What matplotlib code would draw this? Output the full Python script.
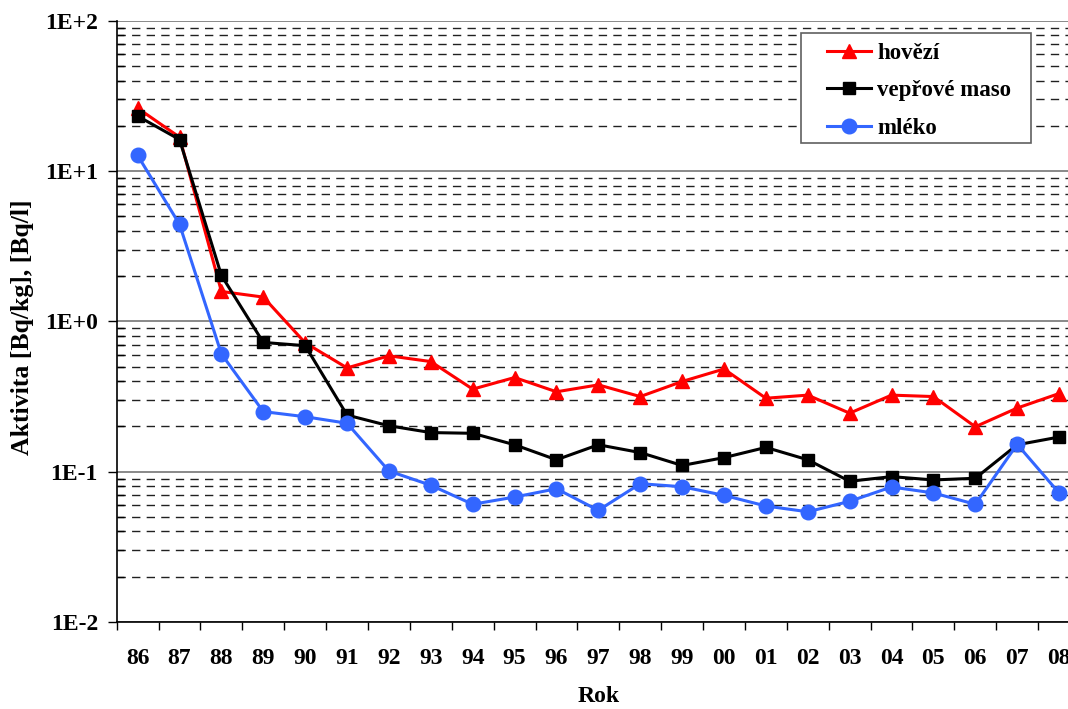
import matplotlib
matplotlib.use("Agg")
import matplotlib.pyplot as plt
from matplotlib.patches import Rectangle
from matplotlib.ticker import FixedLocator, LogLocator, NullFormatter
import numpy as np

years = ["86", "87", "88", "89", "90", "91", "92", "93", "94", "95", "96",
         "97", "98", "99", "00", "01", "02", "03", "04", "05", "06", "07", "08"]

hovezi = [26.2, 16.8, 1.58, 1.45, 0.72, 0.49, 0.59, 0.54, 0.354, 0.423, 0.340,
          0.378, 0.316, 0.398, 0.482, 0.308, 0.323, 0.245, 0.323, 0.316, 0.199,
          0.265, 0.331]
veprove = [23.2, 16.2, 2.02, 0.724, 0.689, 0.238, 0.202, 0.182, 0.180, 0.151,
           0.120, 0.151, 0.134, 0.110, 0.124, 0.145, 0.120, 0.0863, 0.0927,
           0.0881, 0.0904, 0.151, 0.170]
mleko = [12.7, 4.42, 0.607, 0.251, 0.232, 0.210, 0.101, 0.0812, 0.0607, 0.0678,
         0.0770, 0.0553, 0.0832, 0.0794, 0.0696, 0.0591, 0.0541, 0.0635, 0.0791,
         0.0722, 0.0607, 0.152, 0.0722]

series_labels = ["hovězí", "vepřové maso", "mléko"]
ytick_labels = ["1E-2", "1E-1", "1E+0", "1E+1", "1E+2"]

FONT = "Liberation Serif"
FS = 17

W, H = 1068, 709
fig = plt.figure(figsize=(W / 100, H / 100), dpi=100)
ax = fig.add_axes([116.7 / W, 1 - 622 / H, (1080 - 116.7) / W, (622 - 20.7) / H])

x = np.arange(len(years))
ax.plot(x, hovezi, color="#FF0000", lw=2.2, marker="^", ms=10,
        mfc="#FF0000", mec="#FF0000", label=series_labels[0], zorder=3)
ax.plot(x, veprove, color="#000000", lw=2.2, marker="s", ms=8.5,
        mfc="#000000", mec="#000000", label=series_labels[1], zorder=4)
ax.plot(x, mleko, color="#3366FF", lw=2.2, marker="o", ms=10.5,
        mfc="#3366FF", mec="#3366FF", label=series_labels[2], zorder=5)

ax.set_yscale("log")
ax.set_ylim(1e-2, 1e2)
ax.set_xlim(-0.5, len(years) - 0.5)

# y axis: decades labelled, minor ticks inside
ax.yaxis.set_major_locator(FixedLocator([1e-2, 1e-1, 1e0, 1e1, 1e2]))
ax.set_yticklabels(ytick_labels)
ax.yaxis.set_minor_locator(LogLocator(base=10, subs=np.arange(2, 10)))
ax.yaxis.set_minor_formatter(NullFormatter())
ax.tick_params(axis="y", which="major", direction="out", length=6.5, width=1,
               pad=7, labelsize=FS)
ax.tick_params(axis="y", which="minor", direction="in", length=5, width=1)

# x axis: ticks between categories, labels centred on categories
ax.xaxis.set_major_locator(FixedLocator(np.arange(-0.5, len(years), 1.0)))
ax.xaxis.set_minor_locator(FixedLocator(x))
ax.set_xticklabels([], minor=False)
ax.set_xticklabels(years, minor=True)
ax.tick_params(axis="x", which="major", direction="out", length=5.5, width=1)
ax.tick_params(axis="x", which="minor", length=0, pad=18.5, labelsize=FS)

for lab in ax.get_xticklabels(minor=True) + ax.get_yticklabels():
    lab.set_fontfamily(FONT)
    lab.set_fontweight("bold")

# gridlines
ax.grid(True, axis="y", which="major", color="#808080", lw=1.3, ls="-", zorder=0)
ax.grid(True, axis="y", which="minor", color="#202020", lw=1.0,
        ls=(0, (6, 4.5)), zorder=0)
ax.set_axisbelow(True)

for side in ("top", "right"):
    ax.spines[side].set_visible(False)
for side in ("left", "bottom"):
    ax.spines[side].set_color("#000000")
    ax.spines[side].set_linewidth(1.2)

fig.text(23 / W, 1 - 327 / H, "Aktivita [Bq/kg], [Bq/l]", rotation=90,
         ha="center", va="center", fontsize=18.5, fontfamily=FONT, fontweight="bold")
fig.text(599 / W, 1 - 696 / H, "Rok", ha="center", va="center",
         fontsize=FS, fontfamily=FONT, fontweight="bold")

# legend box drawn separately, entries placed inside it
box = Rectangle((800.7 / W, 1 - 142.7 / H), (1031 - 800.7) / W, (142.7 - 33.3) / H,
                transform=fig.transFigure, facecolor="white", edgecolor="#606060",
                lw=1.2, zorder=10)
fig.add_artist(box)
handles, labels = ax.get_legend_handles_labels()
leg = fig.legend(handles, labels, loc="upper left",
                 bbox_to_anchor=(827.3 / W, 1 - 42.8 / H),
                 bbox_transform=fig.transFigure, borderaxespad=0, borderpad=0,
                 prop={"family": FONT, "weight": "bold", "size": 16.5},
                 handlelength=1.9, handletextpad=0.28, labelspacing=0.72,
                 frameon=False)
leg.set_zorder(11)

fig.savefig("out.png", dpi=100)
